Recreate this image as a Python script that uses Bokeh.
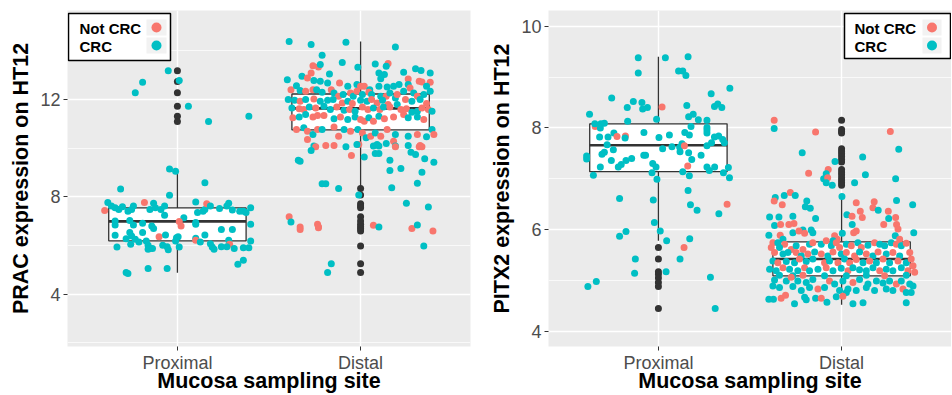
from bokeh.plotting import figure
from bokeh.models import Range1d, FixedTicker, BoxAnnotation, Label, ColumnDataSource
from bokeh.layouts import row
from bokeh.embed import file_html
from bokeh.resources import INLINE

# ---------------- data ----------------
sites = ["Proximal", "Distal"]
site_pos = [1, 2]
groups = ["Not CRC", "CRC"]
group_colors = ["#F8766D", "#00BFC4"]

# PRAC boxplot statistics (Proximal, Distal)
prac_q1 = [6.19, 10.75]
prac_median = [6.99, 11.63]
prac_q3 = [7.54, 12.22]
prac_whisker_low = [4.88, 8.44]
prac_whisker_high = [9.04, 14.38]
prac_outliers_proximal = [13.18, 12.73, 12.27, 11.72, 11.31, 11.09]
prac_outliers_distal = [8.34, 8.07, 7.71, 7.62, 7.55, 7.18, 7.00, 6.87, 6.77, 6.69, 6.59, 5.98, 5.25, 4.89]

# PITX2 boxplot statistics (Proximal, Distal)
pitx2_q1 = [7.14, 5.09]
pitx2_median = [7.66, 5.42]
pitx2_q3 = [8.08, 5.76]
pitx2_whisker_low = [5.78, 4.52]
pitx2_whisker_high = [9.40, 6.68]
pitx2_outliers_proximal = [5.65, 5.42, 5.17, 5.12, 5.05, 4.96, 4.88, 4.45]
pitx2_outliers_distal = [8.15, 7.97, 7.93, 7.90, 7.59, 7.54, 7.49, 7.44, 7.38, 7.33, 7.18, 7.13,
                         7.08, 7.02, 6.97, 6.92, 6.87]

# jittered samples: (jittered site position, expression, group index 0 = Not CRC, 1 = CRC)
prac_proximal = [
    (0.95, 13.18, 1), (0.81, 12.70, 1), (0.77, 12.27, 1), (1.01, 12.77, 1), (1.06, 11.72, 1),
    (1.17, 11.09, 1), (1.39, 11.31, 1), (0.957, 9.14, 1), (0.99, 9.05, 1), (1.15, 8.58, 1),
    (0.69, 8.32, 1), (0.957, 8.06, 1),
    (0.603, 7.44, 0), (0.62, 7.76, 1), (0.64, 7.62, 1), (0.66, 7.55, 1), (0.68, 7.48, 1),
    (0.70, 7.59, 1), (0.73, 7.41, 1), (0.75, 7.48, 1), (0.76, 7.62, 1), (0.82, 7.76, 0),
    (0.85, 7.48, 1), (0.87, 7.73, 1), (0.88, 7.55, 1), (0.91, 7.48, 1), (0.93, 7.62, 1),
    (1.10, 7.78, 1), (1.11, 7.35, 1), (1.14, 7.41, 1), (1.15, 7.48, 1), (1.16, 7.71, 0),
    (1.18, 7.62, 1), (1.23, 7.52, 1), (1.27, 7.62, 1), (1.28, 7.73, 1), (1.30, 7.46, 1),
    (1.34, 7.41, 1), (1.36, 7.41, 1), (1.375, 7.35, 1), (1.40, 7.55, 1),
    (0.93, 7.24, 1), (1.035, 7.14, 1), (0.66, 7.00, 1), (0.74, 7.03, 1), (0.81, 6.91, 1),
    (0.76, 6.84, 1), (0.66, 6.84, 1), (1.01, 6.98, 0), (1.02, 6.80, 0), (0.86, 6.80, 1),
    (0.87, 6.70, 1), (1.10, 6.87, 1), (1.10, 6.94, 1), (1.40, 6.87, 1), (1.24, 6.66, 1),
    (1.30, 6.66, 1), (0.66, 6.42, 1), (0.74, 6.53, 1), (0.75, 6.39, 1), (0.81, 6.53, 1),
    (0.90, 6.36, 0), (0.935, 6.43, 1), (1.004, 6.36, 1), (0.995, 6.32, 1), (0.99, 6.18, 1),
    (1.15, 6.43, 1), (1.10, 6.30, 1), (1.10, 6.21, 0), (1.125, 6.14, 1), (0.72, 6.28, 1),
    (0.77, 6.25, 1), (0.79, 6.14, 1), (0.83, 6.18, 1), (1.28, 6.21, 1), (1.285, 6.05, 0),
    (1.40, 6.18, 1), (0.745, 6.05, 1), (0.67, 5.94, 1), (0.84, 6.01, 1), (0.85, 5.87, 1),
    (0.84, 5.84, 1), (0.864, 5.87, 1), (0.92, 6.01, 1), (0.944, 5.95, 1), (0.95, 5.82, 1),
    (1.01, 5.94, 1), (1.18, 6.07, 1), (1.19, 5.94, 1), (1.20, 5.84, 1), (1.24, 5.95, 1),
    (1.27, 5.95, 1), (1.31, 5.87, 1), (1.36, 5.91, 1), (1.39, 5.91, 1), (1.36, 5.39, 1),
    (1.33, 5.23, 1), (0.72, 4.89, 1), (0.73, 4.85, 1), (0.84, 5.05, 1), (0.944, 5.05, 1),
]

prac_distal = [
    (1.61, 14.38, 1), (1.73, 14.25, 1), (1.92, 14.35, 1), (2.19, 14.15, 1), (1.79, 13.81, 1),
    (1.90, 13.51, 1), (1.74, 13.38, 0), (1.77, 13.33, 0), (1.78, 13.43, 1), (1.985, 13.32, 1),
    (2.08, 13.45, 1), (2.15, 13.47, 0), (2.14, 13.36, 1), (2.10, 13.08, 1), (2.13, 13.02, 1),
    (2.11, 12.85, 1), (2.235, 13.11, 1), (2.30, 13.26, 1), (2.33, 13.19, 1), (2.38, 13.08, 1),
    (1.73, 13.08, 0), (1.83, 13.04, 1), (1.68, 12.95, 1), (1.71, 12.88, 0), (1.60, 12.81, 1),
    (1.745, 12.78, 1), (1.78, 12.74, 1), (1.82, 12.67, 1), (1.885, 12.67, 0), (1.93, 12.54, 1),
    (1.98, 12.61, 1), (2.00, 12.54, 0), (2.02, 12.54, 0), (2.05, 12.40, 1), (2.10, 12.54, 1),
    (2.145, 12.51, 1), (2.18, 12.54, 1), (2.21, 12.61, 1), (2.26, 12.84, 0), (2.26, 12.61, 1),
    (2.27, 12.47, 0), (2.32, 12.74, 0), (2.335, 12.71, 0), (2.38, 12.70, 0), (2.36, 12.54, 1),
    (2.38, 12.33, 1), (1.62, 12.40, 0), (1.65, 12.56, 1), (1.67, 12.36, 1), (1.70, 12.33, 0),
    (1.74, 12.40, 0), (1.76, 12.40, 1), (1.79, 12.29, 1), (1.84, 12.40, 0), (1.855, 12.26, 1),
    (1.88, 12.13, 0), (1.905, 12.20, 1), (1.945, 12.26, 0), (1.96, 12.13, 1), (1.98, 12.33, 0),
    (2.01, 12.20, 1), (2.045, 12.29, 0), (2.06, 12.20, 1), (2.11, 12.13, 1), (2.14, 12.13, 0),
    (2.16, 12.26, 1), (2.19, 12.06, 1), (2.20, 12.20, 0), (2.235, 12.33, 1), (2.29, 12.26, 1),
    (2.31, 12.13, 0), (2.345, 12.20, 1), (1.605, 11.99, 1), (1.64, 11.96, 1), (1.67, 11.92, 0),
    (1.70, 11.99, 1), (1.745, 12.02, 0), (1.78, 11.92, 1), (1.82, 11.96, 1), (1.85, 11.99, 1),
    (1.90, 11.85, 0), (1.93, 11.92, 1), (1.955, 11.83, 0), (2.00, 11.96, 1), (2.035, 11.92, 1),
    (2.06, 11.99, 0), (2.09, 11.85, 0), (2.12, 11.96, 1), (2.15, 11.79, 0), (2.20, 11.79, 1),
    (2.245, 11.99, 0), (2.28, 11.92, 1), (2.325, 11.99, 1), (2.36, 11.83, 0), (2.37, 11.58, 0),
    (2.39, 11.51, 1), (1.625, 11.65, 1), (1.665, 11.61, 0), (1.69, 11.58, 0), (1.72, 11.69, 1),
    (1.755, 11.65, 0), (1.80, 11.72, 1), (1.835, 11.58, 1), (1.87, 11.69, 0), (1.91, 11.55, 1),
    (1.94, 11.58, 0), (1.97, 11.51, 1), (2.01, 11.69, 0), (2.04, 11.58, 0), (2.07, 11.65, 1),
    (2.105, 11.58, 0), (2.125, 11.69, 1), (2.16, 11.69, 0), (2.22, 11.58, 0), (2.25, 11.61, 0),
    (2.28, 11.47, 1), (2.31, 11.51, 1), (2.335, 11.65, 0), (1.63, 11.24, 0), (1.665, 11.28, 1),
    (1.70, 11.38, 1), (1.74, 11.28, 0), (1.765, 11.34, 0), (1.80, 11.34, 0), (1.855, 11.20, 1),
    (1.89, 11.28, 0), (1.93, 11.17, 1), (1.97, 11.28, 1), (2.00, 11.17, 0), (2.02, 11.10, 0),
    (2.045, 11.24, 1), (2.07, 11.10, 0), (2.10, 11.31, 1), (2.13, 11.20, 0), (2.18, 11.28, 0),
    (2.235, 11.38, 0), (2.26, 11.24, 1), (2.31, 11.28, 1), (2.345, 11.17, 0), (1.65, 10.76, 0),
    (1.69, 10.83, 1), (1.71, 10.69, 0), (1.74, 10.56, 1), (1.765, 10.76, 0), (1.79, 10.76, 1),
    (1.855, 10.87, 0), (1.88, 10.49, 0), (1.91, 10.76, 1), (1.945, 10.69, 0), (1.985, 10.76, 1),
    (2.01, 10.62, 0), (2.03, 10.42, 1), (2.055, 10.49, 0), (2.08, 10.62, 1), (2.11, 10.49, 0),
    (2.145, 10.76, 0), (2.19, 10.56, 1), (2.18, 10.28, 0), (2.26, 10.49, 1), (2.31, 10.56, 0),
    (2.36, 10.46, 1), (2.325, 10.11, 0), (2.39, 10.76, 1), (2.40, 10.56, 0), (1.745, 10.08, 1),
    (1.81, 10.11, 0), (1.855, 10.11, 0), (2.26, 10.11, 1), (2.19, 10.08, 1), (1.99, 10.15, 0),
    (1.71, 10.35, 0), (1.755, 10.05, 0), (1.73, 9.90, 1), (1.92, 10.05, 1), (1.95, 9.69, 0),
    (1.98, 10.15, 1), (2.02, 9.63, 1), (2.07, 10.08, 1), (2.09, 10.15, 1), (2.10, 10.08, 1),
    (2.14, 10.19, 1), (2.19, 10.05, 0), (2.08, 9.78, 1), (2.10, 9.78, 1), (2.275, 9.83, 1),
    (2.30, 9.74, 1), (2.32, 10.05, 0), (2.335, 10.05, 0), (2.35, 9.56, 1), (2.40, 9.42, 1),
    (1.66, 9.50, 1), (1.67, 9.46, 1), (2.16, 9.50, 1), (2.16, 9.08, 1), (2.22, 9.16, 1),
    (2.335, 9.01, 1), (1.79, 8.53, 1), (1.81, 8.53, 1), (1.88, 8.34, 1), (2.17, 8.37, 1),
    (2.31, 8.55, 1), (1.99, 8.07, 1), (2.25, 7.73, 1), (2.37, 7.58, 1), (1.61, 7.18, 0),
    (1.62, 6.96, 1), (1.67, 6.76, 0), (1.67, 6.66, 0), (1.765, 6.87, 0), (1.77, 6.77, 0),
    (1.77, 6.73, 0), (2.07, 6.83, 0), (2.10, 6.76, 1), (2.28, 6.70, 0), (2.31, 6.84, 1),
    (2.395, 6.59, 0), (2.345, 5.98, 1), (1.84, 5.25, 1), (1.82, 4.89, 1),
]

pitx2_proximal = [
    (0.89, 9.38, 1), (1.038, 9.38, 1), (1.162, 9.40, 1), (0.89, 9.08, 1), (1.11, 9.12, 1),
    (1.133, 9.12, 1), (1.15, 9.03, 1), (1.39, 8.78, 1), (0.745, 8.59, 1), (0.863, 8.52, 1),
    (0.91, 8.50, 1), (1.288, 8.67, 1), (0.83, 8.40, 1), (0.914, 8.37, 1), (0.94, 8.40, 1),
    (1.02, 8.41, 0), (1.155, 8.44, 1), (1.306, 8.42, 1), (1.324, 8.47, 1), (1.346, 8.40, 1),
    (0.624, 8.27, 1), (1.165, 8.22, 1), (1.19, 8.27, 1), (1.218, 8.16, 1), (1.265, 8.15, 1),
    (0.832, 8.13, 1), (0.99, 8.17, 1), (0.655, 8.03, 0), (0.653, 8.08, 1), (0.686, 8.08, 1),
    (0.705, 8.09, 1), (0.683, 8.00, 1), (1.265, 8.01, 1), (1.265, 7.96, 1), (1.265, 7.90, 1),
    (1.178, 8.03, 1), (0.757, 7.90, 1), (0.921, 7.91, 1), (1.144, 7.91, 1), (1.169, 7.86, 1),
    (1.06, 7.86, 1), (1.003, 7.81, 1), (0.679, 7.82, 1), (0.725, 7.82, 1), (0.774, 7.83, 0),
    (0.82, 7.84, 0), (0.818, 7.80, 1), (1.306, 7.82, 1), (1.329, 7.84, 1), (1.351, 7.77, 1),
    (1.36, 7.71, 1), (1.29, 7.71, 1), (1.265, 7.65, 1), (0.72, 7.67, 1), (0.754, 7.57, 1),
    (1.074, 7.63, 1), (1.116, 7.62, 1), (1.129, 7.69, 1), (1.142, 7.65, 0), (1.023, 7.59, 1),
    (1.118, 7.53, 1), (1.165, 7.51, 1), (0.692, 7.48, 1), (0.705, 7.52, 1), (0.608, 7.45, 1),
    (0.608, 7.39, 1), (0.92, 7.46, 1), (0.93, 7.46, 1), (0.854, 7.40, 1), (0.823, 7.36, 1),
    (0.743, 7.36, 1), (1.182, 7.38, 1), (1.233, 7.46, 1), (0.969, 7.30, 1), (0.987, 7.23, 1),
    (0.797, 7.28, 1), (0.781, 7.23, 1), (0.683, 7.23, 1), (1.16, 7.25, 0), (1.265, 7.23, 1),
    (1.307, 7.23, 1), (1.278, 7.16, 1), (1.382, 7.22, 1), (1.355, 7.12, 1), (1.388, 7.02, 1),
    (0.965, 7.12, 1), (1.133, 7.14, 1), (1.169, 7.06, 1), (0.992, 6.99, 1), (0.645, 7.07, 1),
    (1.162, 6.77, 1), (0.788, 6.61, 1), (0.972, 6.58, 1), (1.175, 6.49, 1), (1.375, 6.50, 0),
    (1.211, 6.38, 1), (1.33, 6.31, 1), (0.978, 6.14, 1), (0.823, 5.96, 1), (0.788, 5.87, 1),
    (1.01, 5.97, 1), (1.045, 5.78, 1), (1.171, 5.82, 1), (1.14, 5.65, 0), (0.874, 5.42, 1),
    (1.118, 5.42, 1), (0.87, 5.14, 1), (1.042, 5.17, 1), (1.284, 5.06, 1), (0.661, 4.98, 1),
    (0.615, 4.88, 1), (1.31, 4.45, 1),
]

pitx2_distal = [
    (1.632, 8.15, 0), (1.632, 7.99, 1), (1.858, 7.92, 0), (2.266, 7.93, 0), (1.785, 7.51, 1),
    (2.312, 7.58, 1), (1.964, 7.34, 1), (2.115, 7.43, 1), (1.82, 7.11, 0), (1.927, 7.18, 0),
    (1.916, 7.10, 1), (1.902, 7.00, 1), (1.924, 7.02, 0), (1.916, 6.92, 1), (1.949, 6.87, 1),
    (2.13, 7.08, 1), (2.071, 6.92, 1), (2.295, 7.00, 1), (2.002, 6.65, 1), (1.638, 6.63, 1),
    (1.632, 6.56, 0), (1.687, 6.67, 1), (1.72, 6.73, 0), (1.747, 6.67, 1), (1.81, 6.56, 1),
    (1.802, 6.45, 1), (1.829, 6.42, 1), (1.676, 6.49, 0), (2.08, 6.53, 0), (2.178, 6.55, 0),
    (2.171, 6.43, 0), (2.102, 6.36, 0), (2.20, 6.38, 1), (2.255, 6.36, 0), (2.30, 6.57, 1),
    (2.388, 6.49, 1), (1.607, 6.25, 1), (1.658, 6.25, 1), (1.734, 6.26, 1), (1.858, 6.22, 1),
    (2.029, 6.29, 1), (2.057, 6.26, 0), (2.113, 6.24, 0), (2.257, 6.22, 1), (2.295, 6.24, 0),
    (1.634, 6.08, 1), (1.667, 6.10, 0), (1.712, 6.10, 0), (1.74, 6.12, 0), (1.789, 5.99, 1),
    (1.843, 5.94, 1), (1.834, 5.99, 1), (1.603, 5.89, 1), (1.665, 5.89, 0), (1.68, 5.81, 1),
    (1.734, 5.94, 1), (1.767, 5.97, 0), (1.798, 5.93, 0), (2.058, 6.10, 1), (2.08, 5.97, 0),
    (2.066, 5.94, 0), (2.23, 6.10, 0), (2.30, 6.10, 0), (2.308, 6.01, 0), (2.293, 5.88, 1),
    (2.317, 5.81, 0), (2.394, 5.94, 1), (1.962, 5.88, 0), (1.976, 5.81, 0), (1.953, 5.78, 1),
    (2.004, 5.93, 1),
    (1.625, 5.74, 0), (1.652, 5.74, 1), (1.689, 5.71, 0), (1.616, 5.65, 0), (1.661, 5.65, 1),
    (1.725, 5.61, 0), (1.752, 5.68, 1), (1.789, 5.61, 0), (1.825, 5.71, 1), (1.843, 5.74, 0),
    (1.889, 5.71, 1), (1.916, 5.78, 0), (1.944, 5.68, 1), (1.971, 5.74, 0), (1.989, 5.65, 0),
    (2.026, 5.71, 1), (2.053, 5.68, 0), (2.089, 5.74, 1), (2.108, 5.65, 0), (2.144, 5.69, 1),
    (2.18, 5.74, 0), (2.208, 5.71, 1), (2.235, 5.68, 1), (2.271, 5.74, 1), (2.299, 5.71, 0),
    (2.326, 5.68, 1), (2.353, 5.73, 0),
    (1.634, 5.55, 0), (1.68, 5.52, 1), (1.707, 5.55, 1), (1.752, 5.55, 0), (1.78, 5.48, 1),
    (1.816, 5.52, 0), (1.853, 5.56, 1), (1.889, 5.52, 0), (1.925, 5.48, 1), (1.953, 5.56, 0),
    (1.998, 5.52, 1), (2.026, 5.55, 0), (2.071, 5.48, 0), (2.098, 5.56, 1), (2.135, 5.52, 0),
    (2.171, 5.48, 1), (2.199, 5.56, 0), (2.244, 5.52, 1), (2.28, 5.55, 0), (2.317, 5.48, 1),
    (2.372, 5.55, 0),
    (1.625, 5.38, 1), (1.652, 5.35, 0), (1.698, 5.37, 1), (1.743, 5.35, 1), (1.77, 5.42, 0),
    (1.807, 5.37, 1), (1.843, 5.42, 1), (1.907, 5.35, 0), (1.934, 5.38, 1), (1.98, 5.35, 0),
    (2.016, 5.42, 1), (2.044, 5.35, 0), (2.08, 5.41, 0), (2.117, 5.35, 1), (2.153, 5.38, 0),
    (2.19, 5.35, 1), (2.226, 5.42, 0), (2.262, 5.35, 1), (2.308, 5.38, 0), (2.353, 5.35, 1),
    (2.38, 5.42, 0), (2.39, 5.29, 0),
    (1.607, 5.22, 1), (1.643, 5.19, 1), (1.68, 5.25, 0), (1.716, 5.22, 1), (1.761, 5.19, 1),
    (1.798, 5.25, 0), (1.825, 5.19, 1), (1.871, 5.22, 1), (1.916, 5.25, 0), (1.953, 5.19, 1),
    (1.998, 5.24, 1), (2.035, 5.19, 0), (2.062, 5.25, 1), (2.098, 5.21, 1), (2.135, 5.19, 1),
    (2.171, 5.25, 1), (2.208, 5.19, 0), (2.244, 5.22, 1), (2.28, 5.19, 1), (2.326, 5.25, 1),
    (2.362, 5.19, 0), (2.399, 5.16, 0),
    (1.661, 5.10, 1), (1.734, 5.09, 1), (1.789, 5.10, 0), (1.907, 5.09, 1), (2.026, 5.09, 1),
    (2.135, 5.10, 1), (2.235, 5.09, 0), (2.353, 5.10, 1),
    (1.634, 5.01, 1), (1.698, 4.99, 1), (1.725, 5.06, 0), (1.761, 4.99, 1), (1.807, 4.96, 1),
    (1.843, 5.02, 1), (1.934, 4.99, 0), (1.962, 4.93, 1), (2.007, 4.99, 1), (2.062, 4.96, 0),
    (2.098, 5.02, 1), (2.144, 4.93, 1), (2.19, 4.99, 1), (2.226, 4.95, 1), (2.262, 4.99, 1),
    (2.299, 4.93, 0), (2.326, 4.99, 1), (2.372, 4.93, 1), (2.39, 4.89, 1),
    (1.625, 4.89, 1), (1.661, 4.86, 1), (1.734, 4.88, 1), (1.78, 4.80, 1), (1.825, 4.86, 1),
    (1.871, 4.83, 0), (1.907, 4.86, 1), (1.989, 4.80, 1), (2.035, 4.83, 1), (2.08, 4.80, 1),
    (2.135, 4.86, 1), (2.18, 4.80, 1), (2.244, 4.83, 1), (2.28, 4.80, 1), (2.335, 4.83, 0),
    (2.353, 4.76, 1), (2.38, 4.76, 1), (2.026, 4.76, 1),
    (1.603, 4.63, 1), (1.628, 4.63, 1), (1.67, 4.65, 0), (1.694, 4.71, 0), (1.743, 4.54, 1),
    (1.798, 4.67, 1), (1.807, 4.62, 1), (1.858, 4.65, 1), (1.889, 4.65, 0), (1.971, 4.68, 1),
    (2.007, 4.69, 0), (2.062, 4.54, 1), (2.117, 4.56, 1), (2.353, 4.56, 1), (1.92, 4.57, 1),
]

# ---------------- drawing ----------------
FONT = "Liberation Sans"
FH = 336
X_RANGE = (0.4, 2.6)
BOX_HALF = 0.375
INK = "#333333"


def make_panel(ylabel, y_range, y_major, y_minor, q1, med, q3, wlo, whi,
               out_prox, out_dist, pts_prox, pts_dist, fw, bl, br, lab_standoff):
    p = figure(frame_width=fw, frame_height=FH,
               x_range=Range1d(*X_RANGE), y_range=Range1d(*y_range),
               output_backend="svg", toolbar_location=None,
               min_border_left=bl, min_border_right=br, min_border_top=10, min_border_bottom=0)
    p.background_fill_color = "#EBEBEB"
    p.border_fill_color = "white"
    p.outline_line_color = None

    xt = FixedTicker(ticks=site_pos)
    yt = FixedTicker(ticks=y_major, minor_ticks=y_minor)
    p.xaxis.ticker = xt
    p.yaxis.ticker = yt
    p.xgrid.ticker = xt
    p.ygrid.ticker = yt
    p.xaxis.major_label_overrides = {pos: s for pos, s in zip(site_pos, sites)}

    p.xgrid.grid_line_color = "white"
    p.xgrid.grid_line_width = 1.4
    p.ygrid.grid_line_color = "white"
    p.ygrid.grid_line_width = 1.4
    p.ygrid.minor_grid_line_color = "white"
    p.ygrid.minor_grid_line_width = 0.7

    for ax in (p.xaxis[0], p.yaxis[0]):
        ax.axis_line_color = None
        ax.major_tick_line_color = INK
        ax.major_tick_out = 4
        ax.major_tick_in = 0
        ax.minor_tick_out = 0
        ax.minor_tick_in = 0
        ax.minor_tick_line_color = None
        ax.major_label_text_font = FONT
        ax.major_label_text_font_size = "18px"
        ax.major_label_text_color = "#4D4D4D"
        ax.axis_label_text_font = FONT
        ax.axis_label_text_font_size = "21.5px"
        ax.axis_label_text_font_style = "bold"
        ax.axis_label_text_color = "black"
    p.xaxis.axis_label = "Mucosa sampling site"
    p.yaxis.axis_label = ylabel
    p.xaxis.major_label_standoff = 2
    p.xaxis.axis_label_standoff = -7
    p.yaxis.major_label_standoff = 3
    p.yaxis.axis_label_standoff = lab_standoff

    lefts = [s - BOX_HALF for s in site_pos]
    rights = [s + BOX_HALF for s in site_pos]
    p.segment(x0=site_pos, x1=site_pos, y0=q3, y1=whi, line_color=INK, line_width=1.3)
    p.segment(x0=site_pos, x1=site_pos, y0=wlo, y1=q1, line_color=INK, line_width=1.3)
    p.quad(left=lefts, right=rights, bottom=q1, top=q3,
           fill_color="white", line_color=INK, line_width=1.3)
    p.segment(x0=lefts, x1=rights, y0=med, y1=med, line_color=INK, line_width=2.6)

    ox = [site_pos[0]] * len(out_prox) + [site_pos[1]] * len(out_dist)
    oy = list(out_prox) + list(out_dist)
    p.scatter(ox, oy, size=7, fill_color=INK, line_color=None)

    pts = list(pts_prox) + list(pts_dist)
    src = ColumnDataSource(dict(
        x=[t[0] for t in pts], y=[t[1] for t in pts],
        color=[group_colors[t[2]] for t in pts],
        group=[groups[t[2]] for t in pts]))
    p.scatter("x", "y", source=src, size=7, fill_color="color", line_color=None)
    return p


def add_legend(p, fw, y_range, box, text_x, key_x, rows_y, keys_y, dot_x):
    def X(o):
        return X_RANGE[0] + o * (X_RANGE[1] - X_RANGE[0]) / fw

    def Y(o):
        return y_range[1] - o * (y_range[1] - y_range[0]) / FH

    p.add_layout(BoxAnnotation(left=X(box[0]), right=X(box[1]), top=Y(box[2]), bottom=Y(box[3]),
                               fill_color="white", fill_alpha=1, line_color="black",
                               line_alpha=1, line_width=1.5))
    for (k0, k1) in keys_y:
        p.add_layout(BoxAnnotation(left=X(key_x[0]), right=X(key_x[1]), top=Y(k0), bottom=Y(k1),
                                   fill_color="#F2F2F2", fill_alpha=1, line_color=None))
    for name, ty in zip(groups, rows_y):
        p.add_layout(Label(x=X(text_x), y=Y(ty), text=name, text_baseline="middle",
                           text_align="left", text_font=FONT, text_font_size="15px",
                           text_font_style="bold", text_color="black"))
    dots_y = [Y((k0 + k1) / 2) for (k0, k1) in keys_y]
    p.scatter([X(dot_x)] * len(groups), dots_y, size=10, fill_color=group_colors,
              line_color=None, level="overlay")


FW_L = 403
FW_R = 403
YR_PRAC = (1.85, 15.65)
YR_PITX2 = (3.70, 10.31)

p1 = make_panel("PRAC expression on HT12", YR_PRAC, [4, 8, 12], [2, 6, 10, 14],
                prac_q1, prac_median, prac_q3, prac_whisker_low, prac_whisker_high,
                prac_outliers_proximal, prac_outliers_distal, prac_proximal, prac_distal,
                FW_L, 67, 13, 4)
add_legend(p1, FW_L, YR_PRAC, (1, 103, 3, 50), 12, (79, 99), [17.5, 35.5],
           [(9, 25), (27, 43)], 89)

p2 = make_panel("PITX2 expression on HT12", YR_PITX2, [4, 6, 8, 10], [5, 7, 9],
                pitx2_q1, pitx2_median, pitx2_q3, pitx2_whisker_low, pitx2_whisker_high,
                pitx2_outliers_proximal, pitx2_outliers_distal, pitx2_proximal, pitx2_distal,
                FW_R, 65, 0, 4)
add_legend(p2, FW_R, YR_PITX2, (FW_R - 107, FW_R - 1, 3, 48), FW_R - 97, (FW_R - 29, FW_R - 10),
           [17.5, 35.5], [(9, 25), (27, 43)], FW_R - 19.5)

layout = row(p1, p2)
open("out.html", "w").write(file_html(layout, INLINE))
